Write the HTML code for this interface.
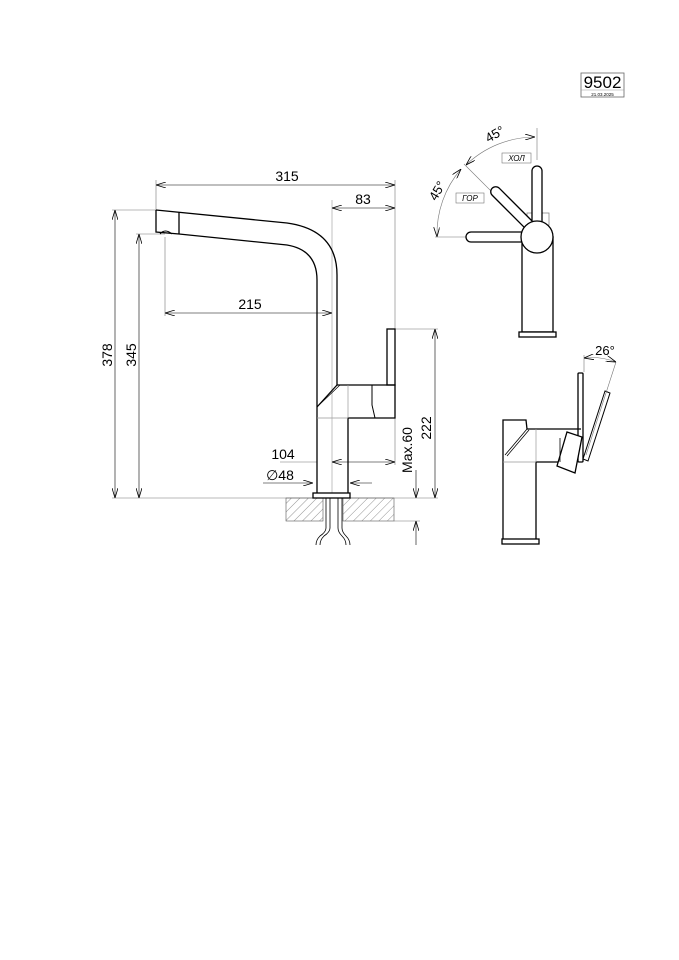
<!DOCTYPE html>
<html><head><meta charset="utf-8"><style>
html,body{margin:0;padding:0;background:#fff;}
svg{display:block;}
text{font-family:"Liberation Sans",sans-serif;fill:#000;}
</style></head><body>
<svg width="679" height="960" viewBox="0 0 679 960" xmlns="http://www.w3.org/2000/svg">
<defs>
<marker id="a" viewBox="0 0 10 6" refX="10" refY="3" markerWidth="10" markerHeight="6" orient="auto-start-reverse" markerUnits="userSpaceOnUse"><path d="M0,0 L10,3 L0,6" fill="none" stroke="#000" stroke-width="0.8"/></marker>
<pattern id="h" width="6" height="6" patternUnits="userSpaceOnUse" patternTransform="rotate(45)"><line x1="0" y1="0" x2="0" y2="6" stroke="#777" stroke-width="0.8"/></pattern>
</defs>

<rect x="581" y="73" width="43" height="24" fill="none" stroke="#666" stroke-width="0.8"/>
<line x1="581" y1="90" x2="624" y2="90" stroke="#999" stroke-width="0.5"/>
<text x="602.5" y="88" font-size="17" text-anchor="middle">9502</text>
<text x="602.5" y="96" font-size="4.5" text-anchor="middle">21.03.2025</text>

<g fill="none" stroke="#000" stroke-width="0.6">
<line x1="156" y1="180" x2="156" y2="210" stroke="#777"/>
<line x1="395" y1="180" x2="395" y2="329" stroke="#777"/>
<line x1="332" y1="200" x2="332" y2="493" stroke="#999"/>
<line x1="165" y1="237" x2="165" y2="316" stroke="#777"/>
<line x1="112" y1="210" x2="156" y2="210" stroke="#777"/>
<line x1="136" y1="234" x2="165" y2="234" stroke="#777"/>
<line x1="112" y1="498" x2="438" y2="498" stroke="#777"/>
<line x1="395" y1="329" x2="438" y2="329" stroke="#777"/>
<line x1="394" y1="521" x2="420" y2="521" stroke="#777"/>
<line x1="395" y1="418" x2="395" y2="465" stroke="#777"/>
<line x1="156" y1="185" x2="395" y2="185" marker-start="url(#a)" marker-end="url(#a)"/>
<line x1="332" y1="208" x2="395" y2="208" marker-start="url(#a)" marker-end="url(#a)"/>
<line x1="165" y1="313" x2="332" y2="313" marker-start="url(#a)" marker-end="url(#a)"/>
<line x1="115" y1="210" x2="115" y2="498" marker-start="url(#a)" marker-end="url(#a)"/>
<line x1="139" y1="234" x2="139" y2="498" marker-start="url(#a)" marker-end="url(#a)"/>
<line x1="435" y1="329" x2="435" y2="498" marker-start="url(#a)" marker-end="url(#a)"/>
<line x1="416" y1="470" x2="416" y2="498" marker-end="url(#a)"/>
<line x1="416" y1="545" x2="416" y2="521" marker-end="url(#a)"/>
<line x1="332" y1="462" x2="395" y2="462" marker-start="url(#a)" marker-end="url(#a)"/>
<line x1="263" y1="483" x2="313" y2="483" marker-end="url(#a)"/>
<line x1="372" y1="483" x2="350" y2="483" marker-end="url(#a)"/>
<line x1="280" y1="462" x2="317" y2="462" stroke="#777"/>
</g>
<text x="287" y="181" font-size="14" text-anchor="middle">315</text>
<text x="363" y="204" font-size="14" text-anchor="middle">83</text>
<text x="250" y="309" font-size="14" text-anchor="middle">215</text>
<text x="283" y="459" font-size="14" text-anchor="middle">104</text>
<text x="280" y="480" font-size="14" text-anchor="middle">∅48</text>
<text transform="translate(112,355) rotate(-90)" font-size="14" text-anchor="middle">378</text>
<text transform="translate(136,355) rotate(-90)" font-size="14" text-anchor="middle">345</text>
<text transform="translate(431,428) rotate(-90)" font-size="14" text-anchor="middle">222</text>
<text transform="translate(412,450) rotate(-90)" font-size="14" text-anchor="middle">Max.60</text>

<rect x="286" y="498" width="37" height="23" fill="url(#h)" stroke="#555" stroke-width="0.6"/>
<rect x="343" y="498" width="51" height="23" fill="url(#h)" stroke="#555" stroke-width="0.6"/>
<g fill="none" stroke="#000" stroke-width="0.8">
<path d="M326,498 V528 Q326,532 320,536 Q316,540 316,545 M330,498 V528 Q330,532 324,536 Q320,540 320,545"/>
<path d="M338,498 V528 Q338,532 342,536 Q346,540 346,545 M342,498 V528 Q342,532 346,536 Q350,540 350,545"/>
</g>

<g fill="none" stroke="#000" stroke-width="1.3">
<path d="M156,210 L287,223 Q337,230 337,275 L337,385 L395,385 L395,418 L348,418 L348,493"/>
<path d="M156,210 L156,232 L179,234 L287,245 Q317,250 317,280 L317,407 L317,493"/>
<line x1="179" y1="212" x2="179" y2="234"/>
<path d="M160,234 Q165,228 172,234" stroke-width="1"/>
<rect x="387" y="329" width="8" height="56"/>
<path d="M337,385 L317,407" />
<path d="M340,385 L319,405" stroke-width="0.7"/>
<path d="M372,385 L372,405 L375,418" stroke-width="1"/>
<rect x="313" y="493" width="37" height="5"/>
</g>
<line x1="348" y1="385" x2="348" y2="418" stroke="#999" stroke-width="0.7"/>
<line x1="317" y1="418" x2="348" y2="418" stroke="#999" stroke-width="0.7"/>

<g fill="none" stroke="#777" stroke-width="0.6">
<path d="M535,137 A100,100 0 0 0 466,165" marker-start="url(#a)" marker-end="url(#a)"/>
<path d="M461,169 A100,100 0 0 0 437,237" marker-start="url(#a)" marker-end="url(#a)"/>
<line x1="537" y1="128" x2="537" y2="160"/>
<line x1="464" y1="164" x2="530" y2="230"/>
<line x1="435" y1="237" x2="470" y2="237"/>
</g>
<text transform="translate(497,138) rotate(-30)" font-size="13" text-anchor="middle">45°</text>
<text transform="translate(441,193) rotate(-60)" font-size="13" text-anchor="middle">45°</text>
<rect x="502" y="153" width="29" height="10" fill="#fff" stroke="#777" stroke-width="0.6"/>
<text x="516.5" y="161" font-size="8" font-style="italic" text-anchor="middle">ХОЛ</text>
<rect x="456" y="193" width="28" height="10" fill="#fff" stroke="#777" stroke-width="0.6"/>
<text x="470" y="201" font-size="8" font-style="italic" text-anchor="middle">ГОР</text>
<g fill="#fff" stroke="#000" stroke-width="1.3">
<rect x="527" y="213" width="22" height="12" stroke="#888" stroke-width="0.8"/>
<rect x="522" y="237" width="31" height="95"/>
<rect x="519" y="332" width="37" height="5"/>
<rect x="532" y="166" width="10" height="62" rx="5"/>
<rect x="466" y="232" width="60" height="10" rx="5"/>
<rect x="484" y="203" width="56" height="10" rx="5" transform="rotate(45 512 208)"/>
<circle cx="537" cy="237" r="16"/>
</g>

<g fill="none" stroke="#000" stroke-width="1.3">
<rect x="502" y="539" width="37" height="5"/>
<path d="M503,539 V420 H526 L527,429 H581 M536,539 V462 H566"/>
<path d="M527,429 L505,455 M529,430 L507,456" stroke-width="0.8"/>
<rect x="578" y="373" width="5" height="89" rx="1"/>
<path d="M567,432 L582,437 L575,473 L557,466 Z" fill="#fff"/>
<path d="M560,438 L560,462" stroke-width="0.8"/>
</g>
<line x1="503" y1="462" x2="536" y2="462" stroke="#999" stroke-width="0.7"/>
<line x1="536" y1="429" x2="536" y2="462" stroke="#999" stroke-width="0.7"/>
<g fill="none" stroke="#000" stroke-width="1">
<path d="M605,391 L610,393 L588,461 L583,459 Z"/>
</g>
<g fill="none" stroke="#777" stroke-width="0.6">
<line x1="584" y1="355" x2="584" y2="372"/>
<line x1="616" y1="362" x2="586" y2="455"/>
<path d="M584,358 Q600,356 616,362" marker-start="url(#a)" marker-end="url(#a)"/>
</g>
<text x="605" y="355" font-size="13" text-anchor="middle">26°</text>
</svg>
</body></html>
